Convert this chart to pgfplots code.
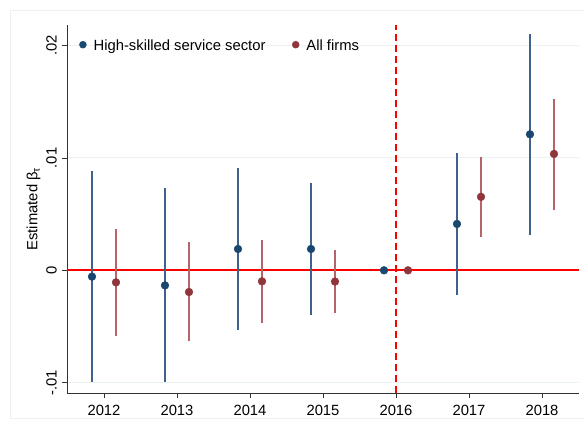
\documentclass[border=0pt]{standalone}
\usepackage{fontspec}
\setmainfont{Liberation Sans}
\usepackage{pgfplots}
\pgfplotsset{compat=1.18}
\definecolor{snavy}{RGB}{26,71,111}
\definecolor{smaroon}{RGB}{144,53,59}
\definecolor{snavyci}{RGB}{62,98,140}
\definecolor{smaroonci}{RGB}{182,100,106}
\definecolor{sgrid}{RGB}{234,242,243}
\definecolor{sframe}{RGB}{240,240,240}
\definecolor{sred}{RGB}{255,0,0}
\begin{document}
\fontsize{14.8}{17.5}\selectfont
\begin{tikzpicture}
\useasboundingbox (0pt,0pt) rectangle (584pt,428pt);
\fill[white] (0pt,0pt) rectangle (584pt,428pt);
\draw[sframe, line width=0.8pt] (10pt,10pt) rectangle (600pt,418pt);
\begin{axis}[
  at={(67.5pt,35pt)}, anchor=south west,
  scale only axis, width=511pt, height=368pt,
  xmin=2011.5, xmax=2018.5, ymin=-0.01092, ymax=0.02184,
  axis x line*=bottom, axis y line*=left,
  axis line style={-, line width=0.8pt, black!80},
  xtick={2012,2013,2014,2015,2016,2017,2018},
  xticklabels={2012,2013,2014,2015,2016,2017,2018},
  ytick={-0.01,0,0.01,0.02},
  yticklabels={-.01,0,.01,.02},
  scaled y ticks=false,
  tick align=outside, major tick length=5.5pt,
  tick style={line width=0.8pt, black!80},
  ymajorgrids, grid style={sgrid, line width=1pt},
  yticklabel style={rotate=90, anchor=south},
  xticklabel style={anchor=north, yshift=-1.5pt},
  ylabel={Estimated β\textsubscript{τ}},
  ylabel style={at={(axis description cs:-0.0665,0.5)}, anchor=center},
  unbounded coords=jump,
  clip=false,
  legend style={draw=none, fill=none, inner sep=0pt, outer sep=0pt,
    at={(axis description cs:0.0229,0.9436)}, anchor=west,
    cells={anchor=base west},
    nodes={inner sep=0pt},
    /tikz/every odd column/.append style={column sep=7pt},
    /tikz/every even column/.append style={column sep=26.5pt}},
  legend columns=2,
]
% reference lines
\addplot[sred, line width=1.8pt, forget plot] coordinates {(2011.5,0) (2018.5,0)};
\addplot[sred, line width=1.9pt, dash pattern=on 7pt off 4pt, forget plot] coordinates {(2016,-0.01092) (2016,0.02184)};
% CIs high-skilled
\addplot[snavyci, line width=2.05pt, forget plot] coordinates {
(2011.8356,-0.00994) (2011.8356,0.00882) (2011.8356,nan)
(2012.8356,-0.00994) (2012.8356,0.00734) (2012.8356,nan)
(2013.8356,-0.00531) (2013.8356,0.00912) (2013.8356,nan)
(2014.8356,-0.00397) (2014.8356,0.00778) (2014.8356,nan)
(2016.8356,-0.00216) (2016.8356,0.01045) (2016.8356,nan)
(2017.8356,0.00318) (2017.8356,0.02105)
};
% CIs all firms
\addplot[smaroonci, line width=2.05pt, forget plot] coordinates {
(2012.1644,-0.00581) (2012.1644,0.00369) (2012.1644,nan)
(2013.1644,-0.00632) (2013.1644,0.00253) (2013.1644,nan)
(2014.1644,-0.00469) (2014.1644,0.00273) (2014.1644,nan)
(2015.1644,-0.00383) (2015.1644,0.00184) (2015.1644,nan)
(2017.1644,0.00297) (2017.1644,0.01010) (2017.1644,nan)
(2018.1644,0.00540) (2018.1644,0.01529)
};
\addlegendimage{legend image code/.code={\fill[snavy] (0pt,5.3pt) circle (3.5pt);}}
\addlegendentry{High-skilled service sector}
\addlegendimage{legend image code/.code={\fill[smaroon] (0pt,5.3pt) circle (3.5pt);}}
\addlegendentry{All firms}
\addplot[only marks, mark=*, mark size=3.9pt, snavy, mark options={draw=snavy, fill=snavy}, forget plot] coordinates {
(2011.8356,-0.00056) (2012.8356,-0.00134) (2013.8356,0.00190) (2014.8356,0.00190)
(2015.8356,0) (2016.8356,0.00413) (2017.8356,0.01211)
};
\addplot[only marks, mark=*, mark size=3.9pt, smaroon, mark options={draw=smaroon, fill=smaroon}, forget plot] coordinates {
(2012.1644,-0.00107) (2013.1644,-0.00193) (2014.1644,-0.00098) (2015.1644,-0.00100)
(2016.1644,0) (2017.1644,0.00654) (2018.1644,0.01036)
};
\end{axis}
\end{tikzpicture}
\end{document}
